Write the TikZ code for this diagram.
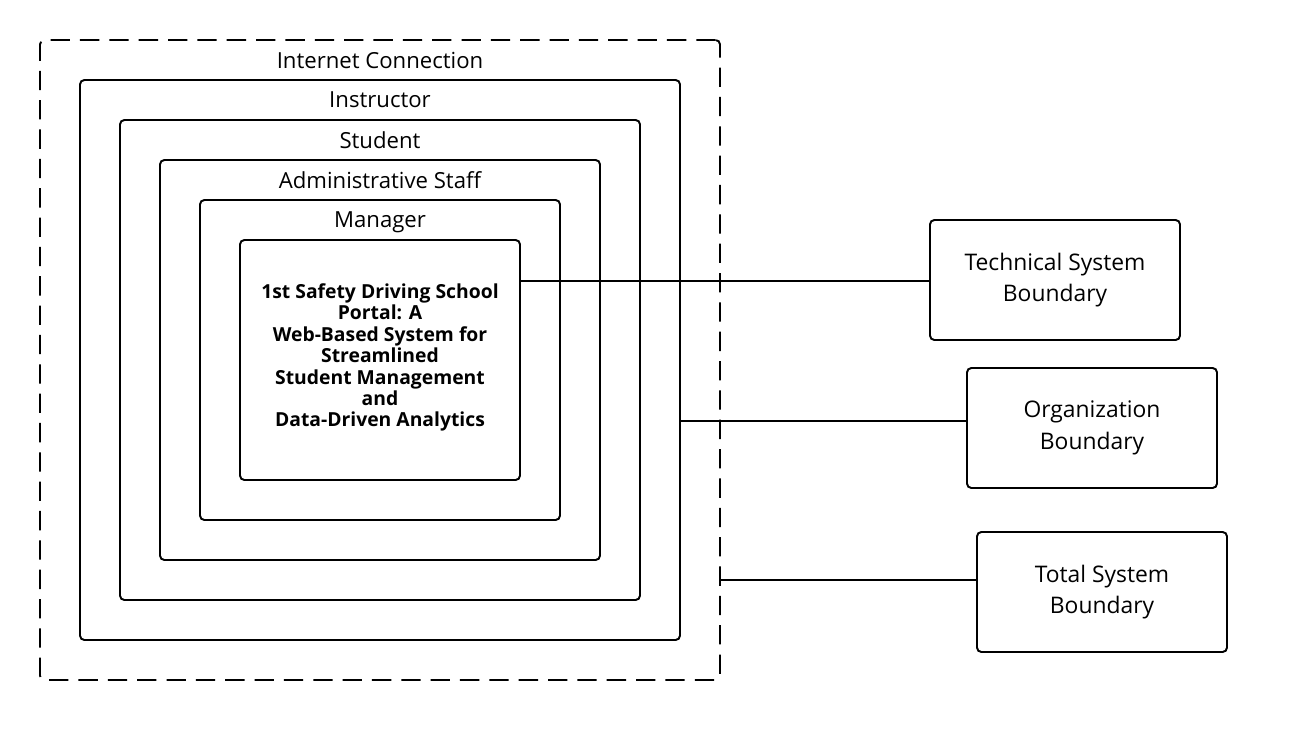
\documentclass[tikz,border=0pt]{standalone}
\usepackage{fontspec}
\setmainfont{Open Sans}
\usetikzlibrary{positioning}
\tikzstyle{layer} = [rectangle, rounded corners=2.5pt, draw=black, line width=1.1pt, inner sep=0pt]
\tikzstyle{outerlayer} = [layer, dash pattern=on 11pt off 5.7pt]
\tikzstyle{layerlabel} = [font=\fontsize{12.6}{14}\selectfont, inner sep=0pt, anchor=north]
\tikzstyle{boundary} = [rectangle, rounded corners=2.5pt, minimum width=5cm, minimum height=2.4cm, align=center, draw=black, line width=1.1pt, font=\fontsize{13}{18}\selectfont]
\tikzstyle{connector} = [line width=1.1pt]

\begin{document}
\begin{tikzpicture}

  \useasboundingbox (0,0) rectangle (26.08,-15.06);

  % Nested layers
  \node (internet) at (7.6,-7.2) [outerlayer, minimum width=13.6cm, minimum height=12.8cm] {};
  \node (instructor) at (7.6,-7.2) [layer, minimum width=12cm, minimum height=11.2cm] {};
  \node (student) at (7.6,-7.2) [layer, minimum width=10.4cm, minimum height=9.6cm] {};
  \node (admin) at (7.6,-7.2) [layer, minimum width=8.8cm, minimum height=8cm] {};
  \node (manager) at (7.6,-7.2) [layer, minimum width=7.2cm, minimum height=6.4cm] {};
  \node (portal) at (7.6,-7.2) [layer, minimum width=5.6cm, minimum height=4.8cm] {};

  % Layer labels
  \node (internetlbl) [layerlabel, below=0.25cm of internet.north] {Internet Connection};
  \node (instructorlbl) [layerlabel, below=0.25cm of instructor.north] {Instructor};
  \node (studentlbl) [layerlabel, below=0.25cm of student.north] {Student};
  \node (adminlbl) [layerlabel, below=0.25cm of admin.north] {Administrative Staff};
  \node (managerlbl) [layerlabel, below=0.25cm of manager.north] {Manager};

  % System title
  \node (title) at (7.6,-7.15) [align=center, font=\bfseries\fontsize{11}{12.2}\selectfont] {1st Safety Driving School\\Portal: A\\Web-Based System for\\Streamlined\\Student Management\\and\\Data-Driven Analytics};

  % Boundaries
  \node (technical) at (21.1,-5.6) [boundary] {Technical System\\Boundary};
  \node (organization) at (21.84,-8.56) [boundary] {Organization\\Boundary};
  \node (total) at (22.04,-11.84) [boundary] {Total System\\Boundary};

  % Connectors
  \draw[connector] ([yshift=-0.02cm]technical.west) -- ([yshift=-0.02cm]technical.west -| portal.east);
  \draw[connector] ([yshift=0.14cm]organization.west) -- ([yshift=0.14cm]organization.west -| instructor.east);
  \draw[connector] ([yshift=0.24cm]total.west) -- ([yshift=0.24cm]total.west -| internet.east);

\end{tikzpicture}
\end{document}
